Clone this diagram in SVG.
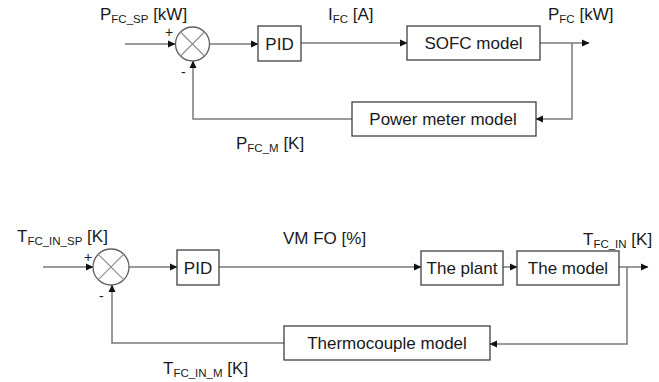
<svg xmlns="http://www.w3.org/2000/svg" width="659" height="382" viewBox="0 0 659 382">
<style>
.box{fill:#fff;stroke:#404040;stroke-width:1.3}
.ln{fill:none;stroke:#7a7a7a;stroke-width:1.5}
.sum{fill:#fff;stroke:#606060;stroke-width:1.3}
.x{stroke:#8a8a8a;stroke-width:1.1}
text{font-family:"Liberation Sans",Arial,sans-serif;font-size:17px;fill:#1a1a1a}
.sub{font-size:11.5px}
.sg{font-size:14px}
</style>
<defs>
<marker id="ah" markerWidth="8" markerHeight="8" refX="7" refY="4" orient="auto" markerUnits="userSpaceOnUse">
<path d="M0,0.5 L7.5,4 L0,7.5 Z" fill="#111"/>
</marker>
</defs>
<g id="connectors">
<path class="ln" d="M125,44 H175" marker-end="url(#ah)"/>
<path class="ln" d="M210,44 H258" marker-end="url(#ah)"/>
<path class="ln" d="M301,43 H407" marker-end="url(#ah)"/>
<path class="ln" d="M540,43 H589" marker-end="url(#ah)"/>
<path class="ln" d="M572,43 V119 H536" marker-end="url(#ah)"/>
<path class="ln" d="M352,119 H193 V61" marker-end="url(#ah)"/>
<path class="ln" d="M43,267 H93" marker-end="url(#ah)"/>
<path class="ln" d="M129,267 H177" marker-end="url(#ah)"/>
<path class="ln" d="M219,267 H421" marker-end="url(#ah)"/>
<path class="ln" d="M503,267 H517" marker-end="url(#ah)"/>
<path class="ln" d="M619,267 H648" marker-end="url(#ah)"/>
<path class="ln" d="M627,267 V344 H490" marker-end="url(#ah)"/>
<path class="ln" d="M284,343 H112 V285" marker-end="url(#ah)"/>
</g>
<g id="sum1">
<circle class="sum" cx="192.5" cy="44" r="17"/>
<line class="x" x1="180.5" y1="32" x2="204.5" y2="56"/>
<line class="x" x1="204.5" y1="32" x2="180.5" y2="56"/>
<text class="sg" x="165" y="37">+</text>
<text class="sg" x="181" y="77">-</text>
</g>
<g id="pid1">
<rect class="box" x="258" y="26" width="43" height="35"/>
<text x="279.5" y="49.5" text-anchor="middle">PID</text>
</g>
<g id="sofc">
<rect class="box" x="407" y="26" width="133" height="34"/>
<text x="473.5" y="49" text-anchor="middle">SOFC model</text>
</g>
<g id="powermeter">
<rect class="box" x="352" y="102" width="184" height="34"/>
<text x="443" y="125" text-anchor="middle">Power meter model</text>
</g>
<g id="labels-top">
<text x="100" y="20">P<tspan class="sub" dy="3">FC_SP</tspan><tspan dy="-3"> [kW]</tspan></text>
<text x="328" y="20">I<tspan class="sub" dy="3">FC</tspan><tspan dy="-3"> [A]</tspan></text>
<text x="548" y="20">P<tspan class="sub" dy="3">FC</tspan><tspan dy="-3"> [kW]</tspan></text>
<text x="236" y="149">P<tspan class="sub" dy="3">FC_M</tspan><tspan dy="-3"> [K]</tspan></text>
</g>
<g id="sum2">
<circle class="sum" cx="111" cy="267" r="18"/>
<line class="x" x1="98.3" y1="254.3" x2="123.7" y2="279.7"/>
<line class="x" x1="123.7" y1="254.3" x2="98.3" y2="279.7"/>
<text class="sg" x="84" y="262">+</text>
<text class="sg" x="99" y="301">-</text>
</g>
<g id="pid2">
<rect class="box" x="177" y="250" width="42" height="35"/>
<text x="198" y="273.5" text-anchor="middle">PID</text>
</g>
<g id="plant">
<rect class="box" x="421" y="251" width="82" height="34"/>
<text x="462" y="274" text-anchor="middle">The plant</text>
</g>
<g id="model">
<rect class="box" x="517" y="251" width="102" height="34"/>
<text x="568" y="274" text-anchor="middle">The model</text>
</g>
<g id="thermocouple">
<rect class="box" x="284" y="326" width="206" height="34"/>
<text x="387" y="349" text-anchor="middle">Thermocouple model</text>
</g>
<g id="labels-bottom">
<text x="17" y="242">T<tspan class="sub" dy="3">FC_IN_SP</tspan><tspan dy="-3"> [K]</tspan></text>
<text x="283" y="244">VM FO [%]</text>
<text x="583" y="245">T<tspan class="sub" dy="3">FC_IN</tspan><tspan dy="-3"> [K]</tspan></text>
<text x="163" y="374">T<tspan class="sub" dy="3">FC_IN_M</tspan><tspan dy="-3"> [K]</tspan></text>
</g>
</svg>
